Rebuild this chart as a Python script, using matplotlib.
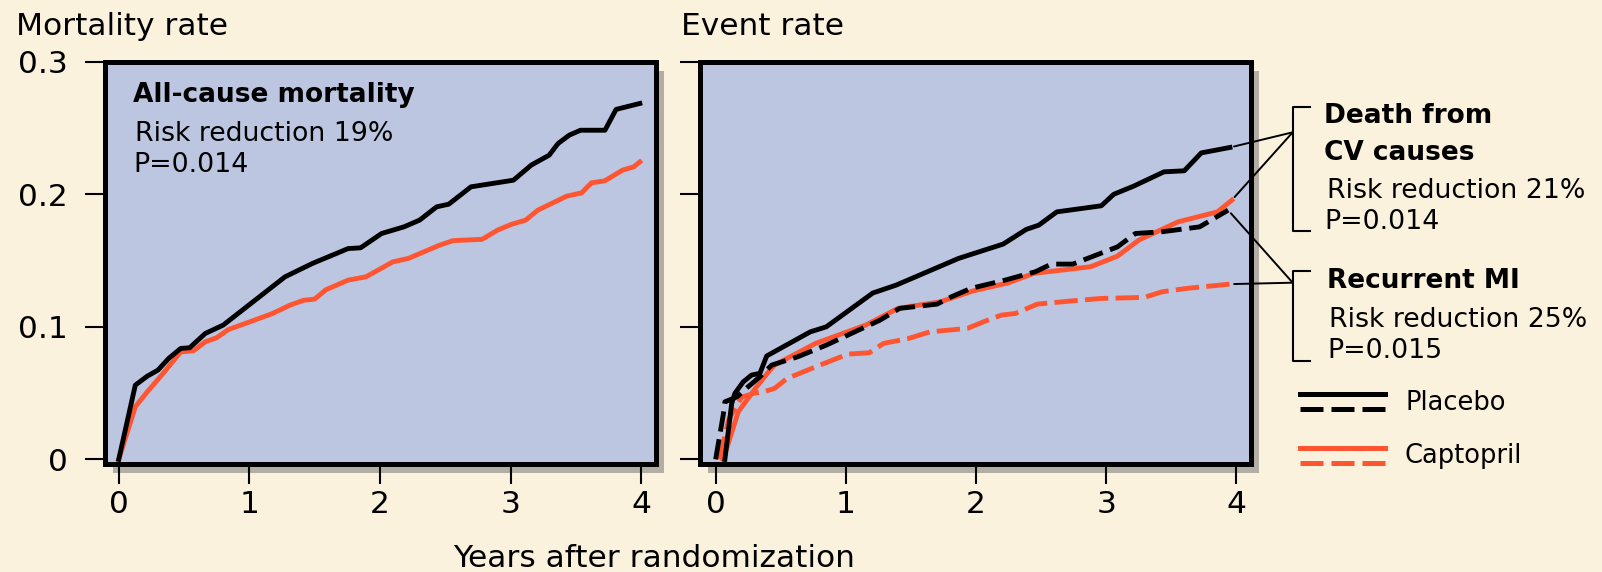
import matplotlib
matplotlib.use('Agg')
import matplotlib.pyplot as plt
from matplotlib.lines import Line2D
from matplotlib.patches import Rectangle

plt.rcParams['font.family'] = ['DejaVu Sans']

# colours
bg_color = '#FAF2DD'
panel_color = '#BCC6E1'
shadow_color = '#B2AEA6'
red = '#FF5531'

# ---- data (years, rate) ----
# left panel: all-cause mortality
mort_t_placebo = [0, 0.127, 0.219, 0.30, 0.383, 0.475, 0.543, 0.663, 0.80, 1.273, 1.483, 1.756, 1.852,
                  2.013, 2.184, 2.304, 2.434, 2.527, 2.697, 3.022, 3.159, 3.296, 3.364, 3.45, 3.536,
                  3.723, 3.808, 3.99]
mort_v_placebo = [0, 0.056, 0.0628, 0.0673, 0.0762, 0.0837, 0.0842, 0.095, 0.1013, 0.1377, 0.1478, 0.159,
                  0.1596, 0.1704, 0.1754, 0.1805, 0.1905, 0.1925, 0.2056, 0.2106, 0.222, 0.2295, 0.2383,
                  0.2446, 0.2483, 0.2483, 0.264, 0.2685]
mort_t_capto = [0, 0.127, 0.219, 0.329, 0.475, 0.572, 0.663, 0.749, 0.841, 1.005, 1.176, 1.313, 1.415,
                1.5, 1.587, 1.756, 1.893, 2.099, 2.218, 2.457, 2.559, 2.782, 2.902, 3.004, 3.116, 3.209,
                3.431, 3.544, 3.619, 3.721, 3.858, 3.944, 3.99]
mort_v_capto = [0, 0.0397, 0.051, 0.0636, 0.0811, 0.0819, 0.0887, 0.0917, 0.098, 0.1038, 0.11, 0.1164,
                0.12, 0.1209, 0.128, 0.1352, 0.1377, 0.149, 0.1516, 0.1616, 0.165, 0.166, 0.173, 0.1772,
                0.1805, 0.188, 0.1986, 0.201, 0.2086, 0.2101, 0.2182, 0.2207, 0.2244]

# right panel: death from CV causes (solid)
cv_t_placebo = [0.071, 0.123, 0.148, 0.212, 0.276, 0.34, 0.392, 0.727, 0.85, 1.207, 1.385, 1.866, 2.208,
                2.386, 2.482, 2.62, 2.962, 3.058, 3.21, 3.443, 3.599, 3.73, 3.95]
cv_v_placebo = [0.0, 0.042, 0.0498, 0.0585, 0.0636, 0.0649, 0.078, 0.0962, 0.1, 0.1255, 0.1314, 0.1516,
                0.1624, 0.1735, 0.1767, 0.1867, 0.1913, 0.2, 0.2061, 0.2169, 0.2177, 0.2312, 0.2353]
cv_t_capto = [0.058, 0.174, 0.315, 0.417, 0.452, 0.768, 1.152, 1.4, 1.728, 1.975, 2.25, 2.442, 2.88,
              3.086, 3.25, 3.552, 3.854, 3.964]
cv_v_capto = [0.0, 0.0359, 0.0548, 0.0673, 0.0711, 0.0875, 0.1013, 0.1139, 0.1189, 0.127, 0.1332, 0.1403,
              0.1453, 0.1533, 0.1654, 0.1792, 0.1867, 0.1955]

# right panel: recurrent MI (dashed)
mi_t_placebo = [0.0, 0.058, 0.071, 0.165, 0.25, 0.34, 0.43, 0.631, 0.85, 1.152, 1.262, 1.413, 1.7, 1.81,
                1.961, 2.222, 2.455, 2.578, 2.743, 3.086, 3.224, 3.429, 3.717, 3.936]
mi_v_placebo = [0.0, 0.0334, 0.0434, 0.0472, 0.0548, 0.0623, 0.0711, 0.0774, 0.0862, 0.1, 0.105, 0.1139,
                0.1171, 0.1226, 0.129, 0.1352, 0.1415, 0.1473, 0.1473, 0.1603, 0.1704, 0.1717, 0.1754, 0.188]
mi_t_capto = [0.03, 0.1, 0.2, 0.3, 0.37, 0.452, 0.548, 0.768, 1.015, 1.18, 1.29, 1.482, 1.646, 1.934,
              2.058, 2.194, 2.304, 2.469, 2.743, 2.962, 3.292, 3.429, 3.621, 3.95]
mi_v_capto = [0.0, 0.03, 0.047, 0.05, 0.051, 0.0535, 0.061, 0.0698, 0.0794, 0.0804, 0.0875, 0.0912, 0.0962,
              0.0988, 0.1038, 0.1088, 0.1101, 0.1171, 0.1196, 0.1214, 0.1222, 0.1264, 0.129, 0.1322]

x_ticks = [0, 1, 2, 3, 4]
y_ticks = [0, 0.1, 0.2, 0.3]
y_ticklabels = ['0', '0.1', '0.2', '0.3']

W, H = 1602, 572


def px(x, y):
    # pixel position (from top-left) -> figure fraction
    return x / W, 1 - y / H


fig = plt.figure(figsize=(W / 100, H / 100), dpi=100, facecolor=bg_color)

lw = 3.5
dash_black = (4.2, 1.6)
dash_red = (4.8, 1.5)


def make_panel(rect, xlim):
    ax = fig.add_axes(rect)
    ax.set_facecolor(panel_color)
    ax.set_xlim(*xlim)
    ax.set_ylim(-0.0035, 0.3)
    for s in ax.spines.values():
        s.set_linewidth(3.6)
        s.set_color('black')
    ax.set_xticks(x_ticks)
    ax.set_yticks(y_ticks)
    ax.tick_params(direction='out', length=14.5, width=1.5, labelsize=22.5, colors='black')
    ax.tick_params(axis='x', pad=4)
    ax.tick_params(axis='y', pad=12)
    # drop shadow
    shadow = Rectangle((rect[0] + 8 / W, rect[1] - 9 / H), rect[2], rect[3],
                       transform=fig.transFigure, facecolor=shadow_color, edgecolor='none', zorder=-1)
    fig.patches.append(shadow)
    return ax


ax1 = make_panel([104.5 / W, 1 - 464 / H, 551 / W, 402.3 / H], (-0.109, 4.11))
ax2 = make_panel([699.5 / W, 1 - 464 / H, 551.8 / W, 402.3 / H], (-0.124, 4.114))

ax1.set_yticklabels(y_ticklabels)
ax2.set_yticklabels([])

# left panel
ax1.plot(mort_t_capto, mort_v_capto, color=red, lw=lw)
ax1.plot(mort_t_placebo, mort_v_placebo, color='black', lw=lw)

# right panel
ax2.plot(mi_t_capto, mi_v_capto, color=red, lw=lw, dashes=dash_red)
ax2.plot(cv_t_capto, cv_v_capto, color=red, lw=lw)
ax2.plot(cv_t_placebo, cv_v_placebo, color='black', lw=lw)
ax2.plot(mi_t_placebo, mi_v_placebo, color='black', lw=lw, dashes=dash_black)

# titles / axis labels
fig.text(*px(15.6, 35), 'Mortality rate', fontsize=22.5, va='baseline', ha='left')
fig.text(*px(681, 35), 'Event rate', fontsize=22.5, va='baseline', ha='left')
fig.text(*px(654, 566.7), 'Years after randomization', fontsize=22.5, va='baseline', ha='center')

# left panel annotation
fig.text(*px(133, 101.7), 'All-cause mortality', fontsize=19, fontweight='bold', va='baseline')
fig.text(*px(135, 140.7), 'Risk reduction 19%', fontsize=19.3, va='baseline')
fig.text(*px(133, 172.3), 'P=0.014', fontsize=19.3, va='baseline')

# right side annotations
fig.text(*px(1324, 123.3), 'Death from', fontsize=19, fontweight='bold', va='baseline')
fig.text(*px(1324, 160), 'CV causes', fontsize=19, fontweight='bold', va='baseline')
fig.text(*px(1327, 198), 'Risk reduction 21%', fontsize=19.3, va='baseline')
fig.text(*px(1324, 229), 'P=0.014', fontsize=19.3, va='baseline')
fig.text(*px(1327, 288), 'Recurrent MI', fontsize=19, fontweight='bold', va='baseline')
fig.text(*px(1329, 326.7), 'Risk reduction 25%', fontsize=19.3, va='baseline')
fig.text(*px(1327, 357.7), 'P=0.015', fontsize=19.3, va='baseline')


# brackets
def bracket(x, y0, y1):
    xs = [x + 17.5, x, x, x + 17.5]
    ys = [y0, y0, y1, y1]
    fx = [px(a, 0)[0] for a in xs]
    fy = [px(0, b)[1] for b in ys]
    fig.add_artist(Line2D(fx, fy, color='black', lw=1.5, transform=fig.transFigure))


bracket(1292.7, 107, 230.7)
bracket(1292.7, 270.7, 361)

# leader lines from the curve ends to the brackets
arrow = dict(arrowstyle='-', color='black', lw=1.4, shrinkA=3, shrinkB=0)
death_pt = (1292.7, H - 132.3)
mi_pt = (1292.7, H - 282.7)
for t, v, target in [(cv_t_placebo[-1], cv_v_placebo[-1], death_pt),
                     (cv_t_capto[-1], cv_v_capto[-1], death_pt),
                     (mi_t_placebo[-1], mi_v_placebo[-1], mi_pt),
                     (mi_t_capto[-1], mi_v_capto[-1], mi_pt)]:
    ax2.annotate('', xy=target, xycoords='figure pixels', xytext=(t, v), textcoords='data',
                 arrowprops=arrow, annotation_clip=False)

# legend
leg_lw = 3.6
for y, col, ls in [(394, 'black', '-'), (409.3, 'black', '--'), (448.3, red, '-'), (462.7, red, '--')]:
    x0, y0 = px(1300, y)
    x1, _ = px(1385, y)
    line = Line2D([x0, x1], [y0, y0], color=col, lw=leg_lw, transform=fig.transFigure)
    if ls == '--':
        line.set_dashes((4.6, 1.6))
    fig.add_artist(line)
fig.text(*px(1405, 410), 'Placebo', fontsize=18.5, va='baseline')
fig.text(*px(1405, 463.3), 'Captopril', fontsize=18.5, va='baseline')

fig.savefig('out.png', dpi=100, facecolor=bg_color)
